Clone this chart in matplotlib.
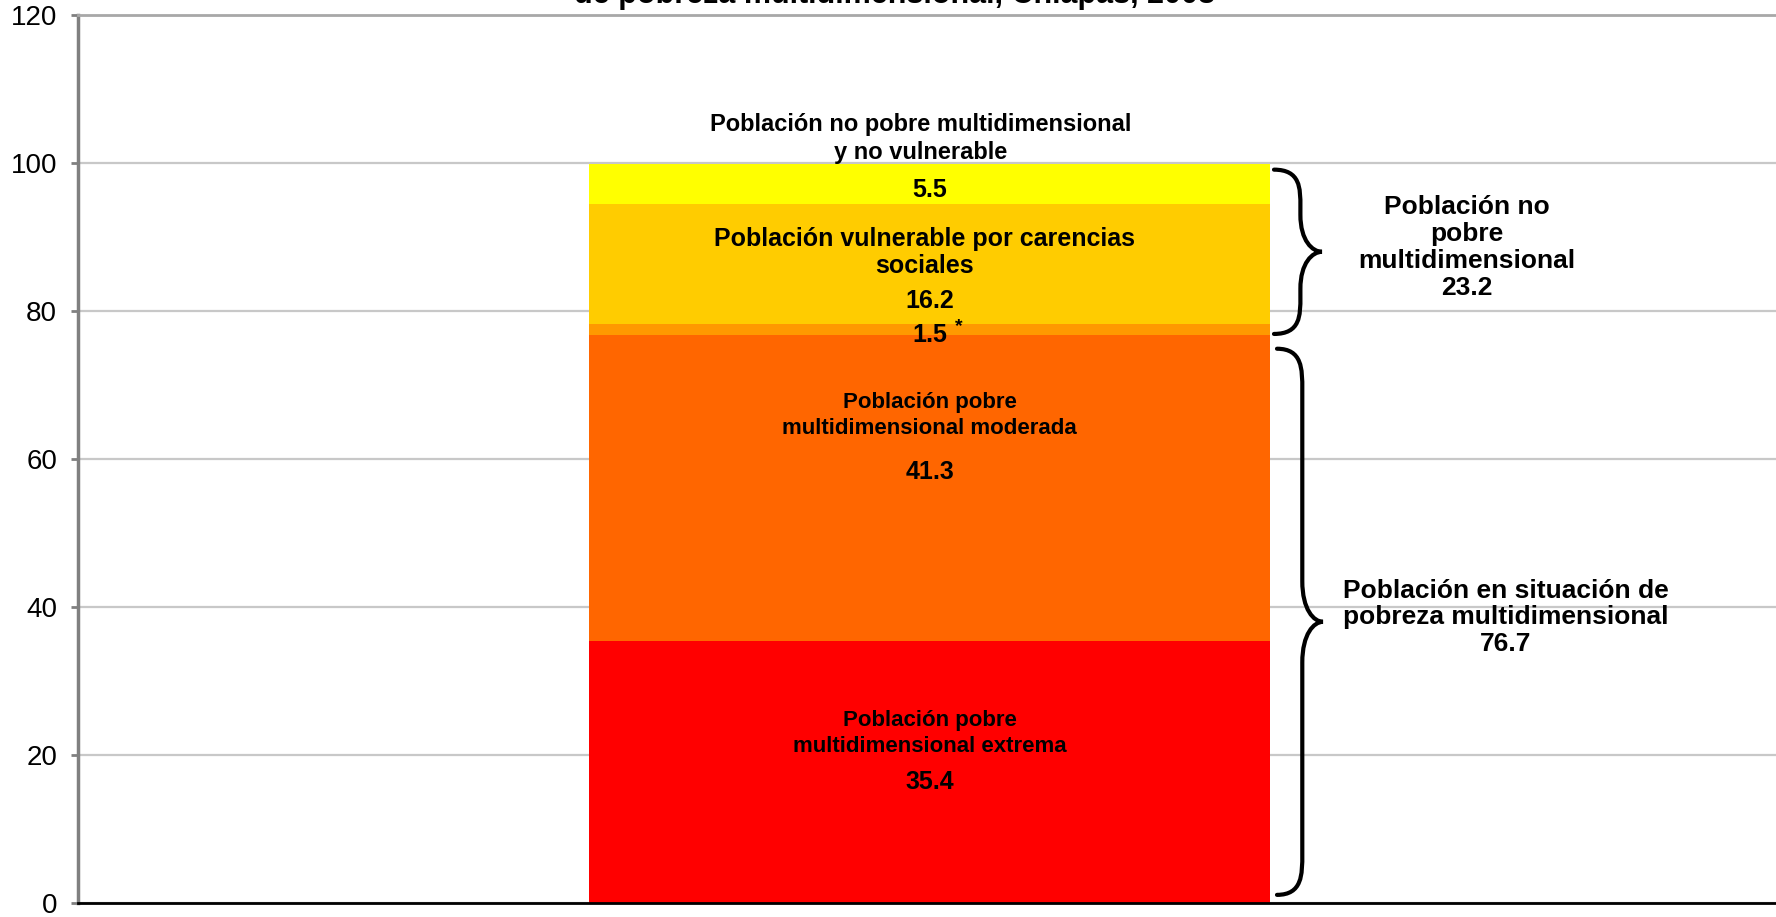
import matplotlib
matplotlib.use('Agg')
import matplotlib.pyplot as plt
from matplotlib.path import Path
from matplotlib.patches import PathPatch

matplotlib.rcParams['font.family'] = ['Liberation Sans', 'DejaVu Sans']

# datos (porcentaje de la población, Chiapas 2008)
categorias = ['Población pobre\nmultidimensional extrema',
              'Población pobre\nmultidimensional moderada',
              '',
              'Población vulnerable por carencias\nsociales',
              'Población no pobre multidimensional\ny no vulnerable']
valores = [35.4, 41.3, 1.5, 16.2, 5.5]
colores = ['#FF0000', '#FF6600', '#FF9900', '#FFCC00', '#FFFF00']
grupos = ['Población en situación de\npobreza multidimensional', 'Población no\npobre\nmultidimensional']
grupo_valores = [76.7, 23.2]

fig = plt.figure(figsize=(17.76, 9.17), dpi=100)
ax = fig.add_axes([78/1776, 14/917, 1698/1776, 888/917])

ancho = 0.401
base = 0
for v, c in zip(valores, colores):
    ax.bar(0, v, width=ancho, bottom=base, color=c, zorder=2)
    base += v

ax.set_xlim(-0.5015, 0.4985)
ax.set_ylim(0, 120)
ax.set_yticks(range(0, 121, 20))
ax.set_xticks([])
ax.yaxis.grid(True, color='#C8C8C8', lw=1.6, zorder=0)
ax.tick_params(axis='y', direction='out', length=5, width=2, color='#808080',
               labelsize=20, pad=10)
ax.spines['left'].set_color('#808080')
ax.spines['left'].set_linewidth(2.5)
ax.spines['bottom'].set_color('black')
ax.spines['bottom'].set_linewidth(2)
ax.spines['top'].set_color('#A8A8A8')
ax.spines['top'].set_linewidth(2)
ax.spines['right'].set_visible(False)

# etiquetas de los segmentos
tam = 16
num = 18
ax.text(0, 22.9, categorias[0], ha='center', va='center', fontsize=tam, fontweight='bold', linespacing=1.3)
ax.text(0, 16.4, f'{valores[0]:.1f}', ha='center', va='center', fontsize=num, fontweight='bold')
ax.text(0, 65.9, categorias[1], ha='center', va='center', fontsize=tam, fontweight='bold', linespacing=1.3)
ax.text(0, 58.2, f'{valores[1]:.1f}', ha='center', va='center', fontsize=num, fontweight='bold')
ax.text(0, 76.8, f'{valores[2]:.1f}', ha='center', va='center', fontsize=num, fontweight='bold')
ax.text(0.017, 77.9, '*', ha='center', va='center', fontsize=14, fontweight='bold')
ax.text(-0.003, 87.9, categorias[3], ha='center', va='center', fontsize=18, fontweight='bold', linespacing=1.2)
ax.text(0, 81.4, f'{valores[3]:.1f}', ha='center', va='center', fontsize=num, fontweight='bold')
ax.text(-0.005, 103.3, categorias[4], ha='center', va='center', fontsize=17, fontweight='bold', linespacing=1.3)
ax.text(0, 96.4, f'{valores[4]:.1f}', ha='center', va='center', fontsize=num, fontweight='bold')


def llave(ax, y0, y1, x0, w, r):
    # llave '}' de y0 a y1
    xm = x0 + w * 0.55
    xt = x0 + w
    ym = (y0 + y1) / 2
    verts = [(x0, y1),
             (xm, y1), (xm, y1 - r * 0.5), (xm, y1 - r),
             (xm, ym + r),
             (xm, ym + r * 0.3), (xt - w * 0.2, ym), (xt, ym),
             (xt - w * 0.2, ym), (xm, ym - r * 0.3), (xm, ym - r),
             (xm, y0 + r),
             (xm, y0 + r * 0.5), (xm, y0), (x0, y0)]
    codes = [Path.MOVETO,
             Path.CURVE4, Path.CURVE4, Path.CURVE4,
             Path.LINETO,
             Path.CURVE4, Path.CURVE4, Path.CURVE4,
             Path.CURVE4, Path.CURVE4, Path.CURVE4,
             Path.LINETO,
             Path.CURVE4, Path.CURVE4, Path.CURVE4]
    ax.add_patch(PathPatch(Path(verts, codes), fill=False, lw=3, color='black',
                           capstyle='round', zorder=3, clip_on=False))


xl = ancho / 2 + 4 / 1698
llave(ax, valores[0] + valores[1] + 0.2, sum(valores) - 0.8, xl, 48 / 1698, 5.0)
llave(ax, 1.1, grupo_valores[0] - 1.8, xl + 3 / 1698, 46 / 1698, 5.5)

ax.text(0.3165, 88.6, f'{grupos[1]}\n{grupo_valores[1]:.1f}', ha='center', va='center',
        fontsize=19, fontweight='bold', linespacing=1.15)
ax.text(0.3395, 38.6, f'{grupos[0]}\n{grupo_valores[0]:.1f}', ha='center', va='center',
        fontsize=19, fontweight='bold', linespacing=1.15)

# título (cortado arriba en la imagen original)
fig.text(895/1776, 1 - 3/917, 'Porcentaje de la población según situación\nde pobreza multidimensional, Chiapas, 2008',
         ha='center', va='baseline', fontsize=22, fontweight='bold', linespacing=1.2)

fig.savefig('out.png', dpi=100)
